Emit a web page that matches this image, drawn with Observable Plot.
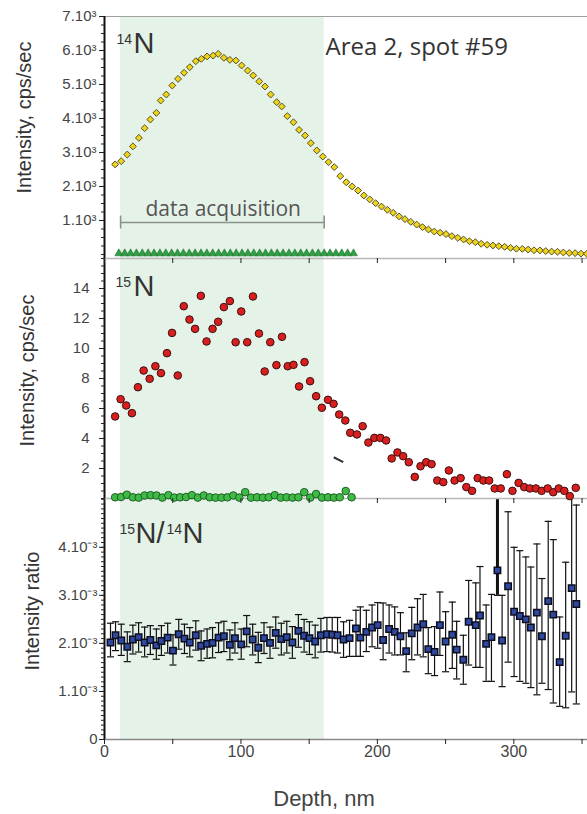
<!DOCTYPE html>
<html><head><meta charset="utf-8">
<script src="https://cdn.jsdelivr.net/npm/d3@7"></script>
<script src="https://cdn.jsdelivr.net/npm/@observablehq/plot@0.6"></script>
<style>
body{margin:0;background:#fff;}
#wrap{position:relative;width:587px;height:814px;overflow:hidden;}
#wrap svg{position:absolute;left:0;top:0;}
</style></head><body><div id="wrap"></div>
<script>
// ---------- data ----------
const n14Depth = [7.8,12.2,16.7,20.8,25.2,29.4,33.6,38.0,41.2,45.3,49.7,53.9,58.3,62.5,66.9,71.0,75.2,79.6,83.3,87.5,91.9,96.3,100.5,104.9,109.0,113.4,117.6,121.8,126.2,129.9,134.0,138.5,142.6,147.0,151.2,155.6,160.0,164.2,168.4,172.8,177.2,181.5,185.8,190.1,194.4,198.7,203.0,207.3,211.6,215.9,220.2,224.5,228.8,233.1,237.4,241.7,246.0,250.3,254.6,258.9,263.2,267.5,271.8,276.1,280.4,284.7,289.0,293.3,297.6,301.9,306.2,310.5,314.8,319.1,323.4,327.7,332.0,336.3,340.6,344.9,349.2,353.5];
const n14 = [2650,2745,2940,3180,3430,3715,3970,4165,4530,4705,4970,5165,5345,5510,5685,5755,5825,5850,5900,5785,5725,5705,5560,5410,5265,5090,4940,4705,4480,4355,4070,3890,3665,3500,3275,3060,2880,2715,2570,2305,2125,2000,1880,1735,1620,1510,1410,1315,1225,1120,1040,960,880,805,735,675,640,600,540,490,440,390,360,315,285,265,245,225,195,170,165,145,125,120,100,85,80,60,45,40,25,20];
const triDepth = [10.5,14.8,19.1,23.4,27.7,32.0,36.3,40.6,44.9,49.2,53.5,57.8,62.1,66.4,70.7,75.0,79.3,83.6,87.9,92.2,96.5,100.8,105.1,109.4,113.7,118.0,122.3,126.6,130.9,135.2,139.5,143.8,148.1,152.4,156.7,161.0,165.3,169.6,173.9,178.2,182.5];
const tri = [30,30,30,30,30,30,30,30,30,30,30,30,30,30,30,30,30,30,30,30,30,30,30,30,30,30,30,30,30,30,30,30,30,30,30,30,30,30,30,30,30];

const n15Depth = [7.8,11.8,15.9,20.1,24.5,28.7,33.1,37.3,41.4,45.8,49.5,53.7,58.1,62.3,66.4,70.6,74.8,79.2,83.3,87.5,91.9,96.1,100.2,104.6,108.8,113.2,117.4,121.5,126.0,130.1,134.3,138.5,142.6,146.6,150.7,155.1,159.3,163.8,167.9,172.0,176.5,180.1,185.0,189.2,193.4,197.8,202.2,206.4,210.5,214.7,218.9,223.0,227.4,231.6,235.8,239.7,243.9,248.3,252.4,256.6,261.0,265.2,269.4,273.5,277.7,281.9,286.0,290.4,294.9,299.0,303.5,307.6,311.8,316.2,320.4,324.8,328.9,332.9,337.0,341.0,345.4];
const n15 = [5.47,6.62,6.2,5.69,7.42,8.53,7.98,8.82,8.36,9.69,11.04,8.2,12.82,11.93,11.31,13.51,10.47,11.31,11.78,12.76,13.16,10.42,12.47,10.42,13.47,11.0,8.47,10.42,8.89,10.78,8.82,8.91,7.47,9.09,7.82,6.82,6.05,6.58,6.31,5.6,5.2,4.38,4.27,4.82,3.73,4.04,4.04,3.87,2.67,3.07,2.82,2.42,1.44,2.15,2.42,2.29,1.2,1.09,1.87,1.2,1.36,0.76,0.51,1.36,1.2,1.2,0.67,0.67,1.62,0.51,1.04,0.76,0.67,0.67,0.51,0.67,0.42,0.67,0.51,0.16,0.71];
const greenDepth = [7.8,12.1,16.4,20.8,25.1,29.4,33.8,38.1,42.4,46.8,51.1,55.4,59.8,64.1,68.4,72.8,77.1,81.4,85.8,90.1,94.4,98.8,103.1,107.4,111.8,116.1,120.4,124.8,129.1,133.4,137.8,142.1,146.4,150.8,155.1,159.4,163.8,168.1,172.4,176.8,181.1];
const green15 = [0.08,0.1,0.25,0.08,0.06,0.2,0.22,0.2,0.06,0.22,0.06,0.08,0.1,0.22,0.06,0.2,0.08,0.06,0.06,0.08,0.2,0.06,0.42,0.06,0.08,0.06,0.08,0.22,0.06,0.08,0.06,0.08,0.42,0.06,0.3,0.06,0.08,0.06,0.08,0.5,0.08];
const strayDepth = [168, 175];
const strayValue = [2.75, 2.42];

// ratio values in units of 10^-3
const ratioDepth = [4.4,8.1,12.3,16.7,20.8,25.0,29.4,33.6,38.0,41.7,46.3,50.2,54.4,58.6,62.5,66.9,70.8,75.2,79.2,83.6,87.5,91.9,95.6,100.2,104.2,108.6,112.7,116.9,121.3,125.5,129.6,133.6,137.7,142.1,146.3,150.2,154.4,158.6,163.0,166.9,170.8,175.2,179.6,184.3,187.5,191.9,196.1,200.2,204.2,208.6,212.7,216.9,221.1,225.2,229.4,233.6,237.3,241.9,245.8,250.0,254.9,258.1,263.0,266.9,272.1,275.2,279.7,283.6,288.0,291.4,295.8,300.2,304.4,308.8,312.5,316.9,320.6,325.2,328.9,333.6,338.0,342.4,345.8];
const ratio = [2.02,2.17,2.06,1.93,2.08,2.13,2.02,2.07,1.96,2.05,2.12,1.85,2.19,2.10,2.02,2.17,1.95,1.99,2.01,2.12,2.15,1.97,2.11,1.98,2.25,2.08,1.91,2.11,2.01,2.22,2.09,2.13,2.02,2.26,2.16,2.11,2.04,2.17,2.19,2.18,2.17,2.08,2.11,2.31,2.12,2.24,2.33,2.38,2.07,2.30,2.24,2.15,1.84,2.21,2.33,2.40,1.88,1.82,2.38,2.04,2.18,1.87,1.66,2.45,2.38,2.58,1.99,2.13,3.52,2.06,3.19,2.66,2.57,2.50,2.33,2.64,2.15,2.88,2.60,1.61,2.16,3.15,2.82];
const ratioHi = [2.42,2.45,2.40,2.24,2.38,2.43,2.34,2.37,2.30,2.37,2.42,2.18,2.50,2.40,2.33,2.47,2.26,2.30,2.33,2.43,2.46,2.28,2.43,2.30,2.58,2.40,2.23,2.43,2.34,2.55,2.42,2.46,2.35,2.60,2.50,2.45,2.38,2.52,2.54,2.54,2.54,2.45,2.48,2.69,2.76,2.69,2.80,2.85,2.84,2.80,2.76,2.64,2.22,2.75,2.93,3.02,2.33,2.35,3.07,2.66,2.86,2.46,2.17,3.31,3.26,3.60,2.80,3.02,6.00,3.00,4.74,4.00,3.93,3.80,3.59,4.07,3.35,4.54,4.16,2.55,3.69,6.00,4.88];
const ratioLo = [1.72,1.85,1.75,1.62,1.78,1.82,1.72,1.77,1.67,1.75,1.80,1.55,1.88,1.79,1.72,1.86,1.64,1.69,1.70,1.81,1.83,1.66,1.80,1.67,1.93,1.76,1.60,1.79,1.69,1.90,1.76,1.80,1.69,1.92,1.82,1.77,1.70,1.82,1.83,1.82,1.80,1.71,1.73,1.73,1.73,1.83,1.93,1.90,1.66,1.80,1.76,1.76,1.41,1.66,1.76,1.72,1.37,1.33,1.75,1.41,1.48,1.26,1.15,1.55,1.50,1.50,1.21,1.21,3.00,1.10,1.61,1.31,1.21,1.17,1.08,0.93,1.17,1.04,0.76,0.69,0.66,0.99,0.74];
const thickDepth = [288.0];

const acquisition = [11.8, 161];
const xTicks = [0, 100, 200, 300];
const xTickLabels = ["0", "100", "200", "300"];
const xMinor = [50, 150, 250, 350];
const topTicks = [1000, 2000, 3000, 4000, 5000, 6000, 7000];
const topTickLabels = ["1.10³", "2.10³", "3.10³", "4.10³", "5.10³", "6.10³", "7.10³"];
const midTicks = [2, 4, 6, 8, 10, 12, 14];
const botTicks = [0, 1, 2, 3, 4];
const botTickLabels = ["0", "1.10⁻³", "2.10⁻³", "3.10⁻³", "4.10⁻³"];

// ---------- build ----------
const W = 587, H = 814;
const xDomain = [0, 354];
const shade = "#e5f2e8";
const FONT = "'Liberation Sans', Arial, sans-serif";
const style = {fontFamily: FONT, fontSize: "15px", color: "#3a3a3a", background: "transparent", overflow: "visible"};

const n14Data = n14Depth.map((d, i) => ({d, v: n14[i]}));
const triData = triDepth.map((d, i) => ({d, v: tri[i]}));
const n15Data = n15Depth.map((d, i) => ({d, v: n15[i]}));
const g15Data = greenDepth.map((d, i) => ({d, v: green15[i]}));
const ratioData = ratioDepth.map((d, i) => ({d, v: ratio[i], hi: ratioHi[i], lo: ratioLo[i], thick: thickDepth.includes(d)}));

const diamondSym = {draw(ctx, size) { const s = Math.sqrt(size) / 1.6; ctx.moveTo(0, -s); ctx.lineTo(s, 0); ctx.lineTo(0, s); ctx.lineTo(-s, 0); ctx.closePath(); }};
const capSym = {draw(ctx, size) { const w = Math.sqrt(size); ctx.moveTo(-w, 0); ctx.lineTo(w, 0); }};

const fmt = (ticks, labels) => d => labels[ticks.indexOf(d)];
const seq = (a, b, s) => d3.range(a, b + s / 2, s);
const labelText = (txt, dx, dy) => Plot.text([txt], {frameAnchor: "left", text: d => d, textAnchor: "middle", rotate: -90, dx, dy, fontSize: 20, fill: "#333", fontFamily: FONT});
const note = (txt, dx, dy, size, extra = {}) => Plot.text([txt], {frameAnchor: "top-left", dx, dy, text: d => d, textAnchor: "start", lineAnchor: "top", fontSize: size, fill: "#333", ...extra});

const common = {width: W, height: H, marginLeft: 104, marginRight: 0, x: {domain: xDomain, label: null}, style};

// top panel
const plotTop = Plot.plot({
  ...common, marginTop: 16, marginBottom: H - 258,
  y: {domain: [-118, 7000], label: null},
  marks: [
    Plot.rect([acquisition], {x1: d => d[0], x2: d => d[1], fill: shade}),
    Plot.ruleY([7000], {stroke: "#a0a0a0", strokeWidth: 1.2}),
    Plot.ruleY([-118], {stroke: "#b8b8b8", strokeWidth: 1.5}),
    Plot.link([acquisition], {x1: d => d[0], x2: d => d[1], y1: 940, y2: 940, stroke: "#8c918e", strokeWidth: 1.6}),
    Plot.ruleX(acquisition, {x: d => d, y1: 750, y2: 1130, stroke: "#8c918e", strokeWidth: 1.6}),
    Plot.text(["data acquisition"], {frameAnchor: "top-left", dx: 41, dy: 185, text: d => d, textAnchor: "start", fontSize: 21, fill: "#555", fontFamily: "'Open Sans', sans-serif"}),
    Plot.text(["Area 2, spot #59"], {frameAnchor: "top-left", dx: 221, dy: 21, text: d => d, textAnchor: "start", fontSize: 24, fill: "#333", fontFamily: "'Open Sans', sans-serif"}),
    note("14", 12, 18, 14),
    note("N", 29, 16, 29),
    Plot.dot(triData, {x: "d", y: "v", symbol: "triangle", r: 3, fill: "#2f9e44", stroke: "#1e6b2a", strokeWidth: 0.5}),
    Plot.dot(n14Data, {x: "d", y: "v", symbol: diamondSym, r: 3.1, fill: "#ecd51c", stroke: "#5a5020", strokeWidth: 1}),
    Plot.ruleX([0], {stroke: "#111", strokeWidth: 2}),
    Plot.axisY(seq(0, 7000, 250), {tickSize: 3, tickFormat: () => "", stroke: "#222", label: null}),
    Plot.axisY(topTicks, {tickSize: 5, tickPadding: 3, tickFormat: fmt(topTicks, topTickLabels), fontSize: 15, fill: "#444", stroke: "#222", label: null}),
    Plot.axisX([...xTicks, ...xMinor], {tickSize: 5, tickFormat: () => "", stroke: "#222", label: null}),
    labelText("Intensity, cps/sec", -80, -20)
  ]
});

// middle panel
const plotMid = Plot.plot({
  ...common, marginTop: 258, marginBottom: H - 498,
  y: {domain: [0, 16], label: null},
  marks: [
    Plot.rect([acquisition], {x1: d => d[0], x2: d => d[1], fill: shade}),
    Plot.ruleY([0], {stroke: "#b8b8b8", strokeWidth: 1.5}),
    note("15", 11, 19, 14),
    note("N", 29, 17, 29),
    Plot.link([0], {x1: () => strayDepth[0], x2: () => strayDepth[1], y1: () => strayValue[0], y2: () => strayValue[1], stroke: "#333", strokeWidth: 2}),
    Plot.dot(g15Data, {x: "d", y: "v", r: 3.8, fill: "#3dbb45", stroke: "#1f5e25", strokeWidth: 1}),
    Plot.dot(n15Data, {x: "d", y: "v", r: 3.8, fill: "#d91e1e", stroke: "#3a1010", strokeWidth: 1}),
    Plot.ruleX([0], {stroke: "#111", strokeWidth: 2}),
    Plot.axisY(seq(0, 16, 0.5), {tickSize: 3, tickFormat: () => "", stroke: "#222", label: null}),
    Plot.axisY(midTicks, {tickSize: 5, tickPadding: 10, fontSize: 15, fill: "#444", stroke: "#222", label: null}),
    Plot.axisX([...xTicks, ...xMinor], {tickSize: 5, tickFormat: () => "", stroke: "#222", label: null}),
    labelText("Intensity, cps/sec", -77, -8)
  ]
});

// bottom panel
const plotBot = Plot.plot({
  ...common, marginTop: 498, marginBottom: H - 739,
  y: {domain: [0, 5.016], label: null},
  marks: [
    Plot.rect([acquisition], {x1: d => d[0], x2: d => d[1], fill: shade}),
    Plot.ruleY([0], {stroke: "#888", strokeWidth: 1.5}),
    note("15", 15, 26, 14),
    note("N/", 31, 24, 29),
    note("14", 62, 26, 14),
    note("N", 78, 24, 29),
    Plot.ruleX(ratioData, {x: "d", y1: "lo", y2: "hi", stroke: "#111", strokeWidth: d => d.thick ? 3 : 1.2, clip: true}),
    Plot.dot(ratioData.filter(d => d.hi <= 5.016), {x: "d", y: "hi", symbol: capSym, r: 2, stroke: "#111", strokeWidth: 1.2}),
    Plot.dot(ratioData, {x: "d", y: "lo", symbol: capSym, r: 2, stroke: "#111", strokeWidth: 1.2}),
    Plot.dot(ratioData, {x: "d", y: "v", symbol: "square", r: 3.6, fill: "#2e4aa0", stroke: "#0d0d20", strokeWidth: 1.5}),
    Plot.ruleX([0], {stroke: "#111", strokeWidth: 2}),
    Plot.axisY(seq(0, 5, 0.1), {tickSize: 3, tickFormat: () => "", stroke: "#222", label: null}),
    Plot.axisY(botTicks, {tickSize: 5, tickPadding: 2, tickFormat: fmt(botTicks, botTickLabels), fontSize: 15, fill: "#444", stroke: "#222", label: null}),
    Plot.axisX(xMinor, {tickSize: 5, tickFormat: () => "", stroke: "#222", label: null}),
    Plot.axisX(xTicks, {tickSize: 5, tickPadding: 1, tickFormat: fmt(xTicks, xTickLabels), fontSize: 16, fill: "#444", stroke: "#222", label: null}),
    Plot.text(["Depth, nm"], {frameAnchor: "bottom", dx: -22, dy: 66, text: d => d, fontSize: 22, fill: "#444"}),
    labelText("Intensity ratio", -72, -8)
  ]
});

const wrap = document.getElementById("wrap");
wrap.appendChild(plotBot);
wrap.appendChild(plotMid);
wrap.appendChild(plotTop);
</script></body></html>
